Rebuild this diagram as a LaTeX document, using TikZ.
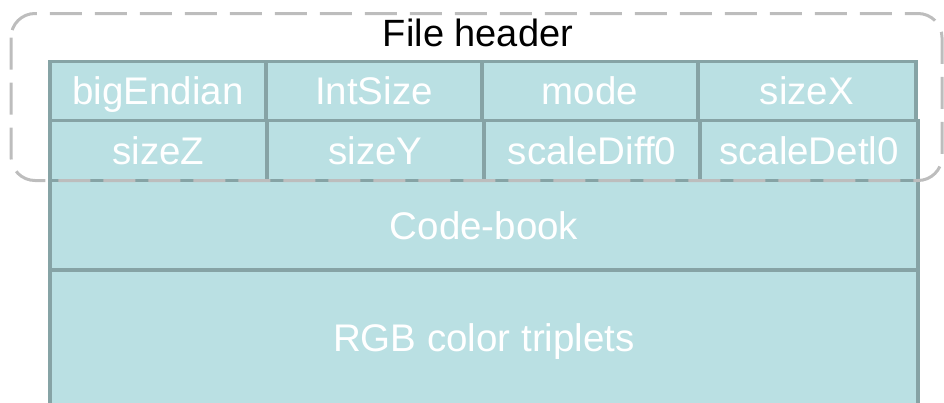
\documentclass[tikz,border=0pt]{standalone}
\usepackage{fontspec}
\setmainfont{Liberation Sans}
\definecolor{cellfill}{HTML}{BAE0E3}
\definecolor{cellline}{HTML}{86A3A5}
\definecolor{groupline}{HTML}{BDBDBD}
\tikzset{
  field/.style={rectangle, draw=cellline, fill=cellfill, line width=3.3pt,
    inner sep=0pt, text=white, font=\fontsize{38.5}{46}\selectfont,
    text height=27.5pt, text depth=0pt},
  groupbox/.style={draw=groupline, line width=3pt, dash pattern=on 32pt off 13pt,
    rounded corners=24pt},
  grouptitle/.style={anchor=base, text=black, font=\fontsize{38}{46}\selectfont}
}
\begin{document}
\begin{tikzpicture}[x=1pt, y=-1pt]
\clip (0,0) rectangle (944,402);
% first header row
\node[field, minimum width=216pt, minimum height=59pt] (bigEndian) at (158,91) {bigEndian};
\node[field, minimum width=216pt, minimum height=59pt] (intSize) at (374,91) {IntSize};
\node[field, minimum width=216pt, minimum height=59pt] (mode) at (590,91) {mode};
\node[field, minimum width=218pt, minimum height=59pt] (sizeX) at (807,91) {sizeX};
% second header row
\node[field, minimum width=217pt, minimum height=60pt] (sizeZ) at (158.5,150.5) {sizeZ};
\node[field, minimum width=217pt, minimum height=60pt] (sizeY) at (375.5,150.5) {sizeY};
\node[field, minimum width=216pt, minimum height=60pt] (scaleDiff) at (592,150.5) {scaleDiff0};
\node[field, minimum width=218pt, minimum height=60pt] (scaleDetl) at (809,150.5) {scaleDetl0};
% payload
\node[field, minimum width=868pt, minimum height=89.5pt] (codebook) at (484,225.25) {Code-book};
\node[field, minimum width=868pt, minimum height=135pt] (rgb) at (484,337.5) {RGB color triplets};
% header grouping
\coordinate (gtl) at (11,13.5);
\coordinate (gbr) at (942,180.5);
\draw[groupbox] (gtl) rectangle (gbr);
\node[grouptitle] (title) at (478,46) {File header};
\end{tikzpicture}
\end{document}
